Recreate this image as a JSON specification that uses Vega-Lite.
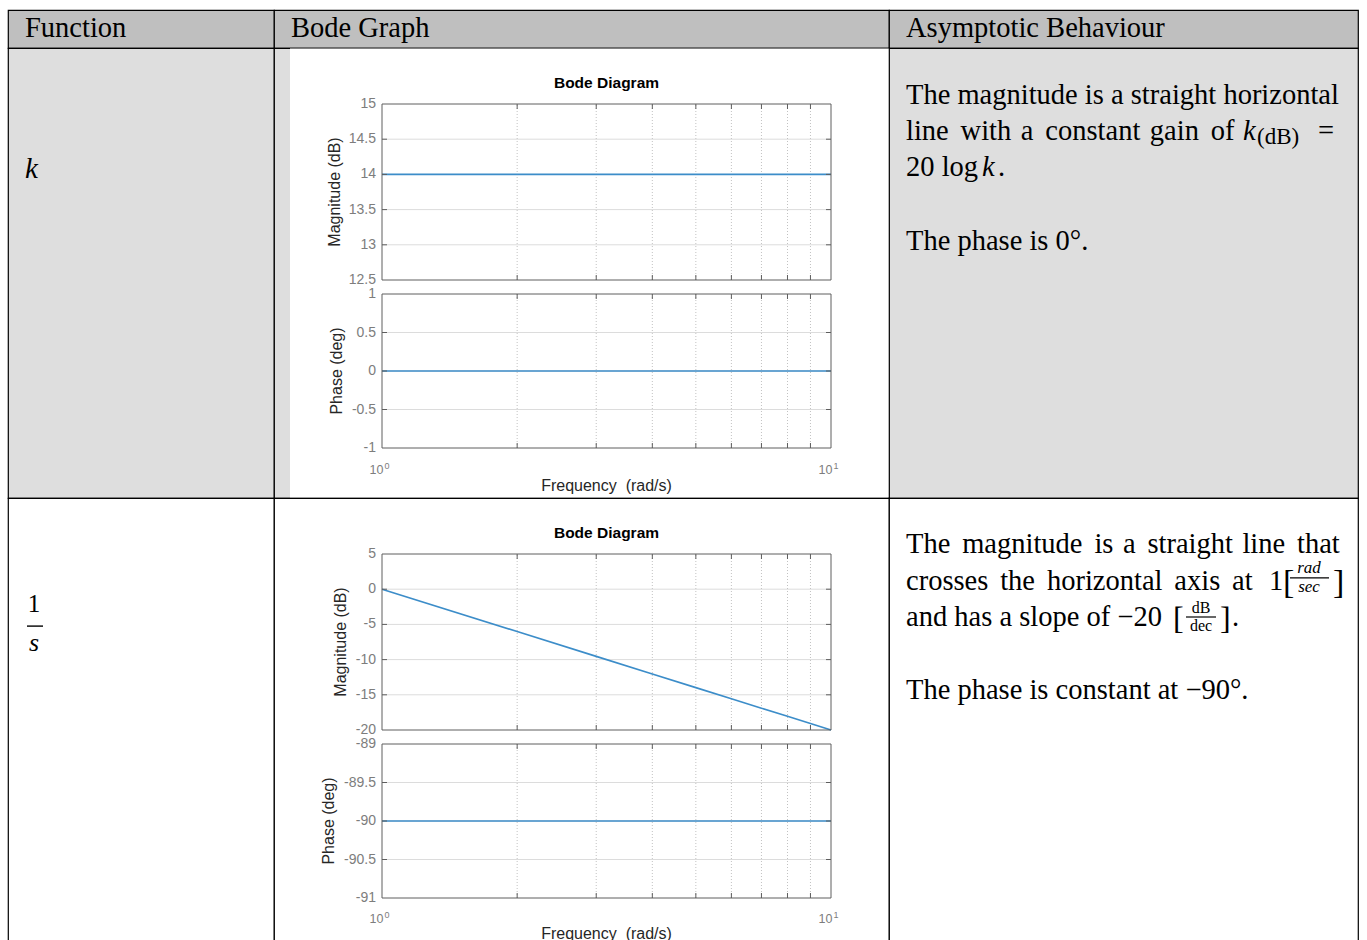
{
"$schema": "https://vega.github.io/schema/vega-lite/v6.json",
"background": "#ffffff",
"padding": {"left": 7, "top": 9, "right": 0, "bottom": 0},
"autosize": {"type": "pad"},
"spacing": 0,
"bounds": "flush",
"columns": 3,
"config": {
 "view": {"stroke": null},
 "text": {"font": "Liberation Serif", "fontSize": 28.5, "align": "left", "baseline": "alphabetic", "color": "#000000"}
},
"datasets": {
 "one": [{"a": 1}],
 "bt": [{"t": "Bode Diagram"}],
 "magTitle": [{"t": "Magnitude (dB)"}],
 "phTitle": [{"t": "Phase (deg)"}],
 "fTitle": [{"t": "Frequency\u00a0 (rad/s)"}],
 "xLab": [{"w": 1, "b": "10", "e": "0"}, {"w": 10, "b": "10", "e": "1"}],
 "minor": [{"w": 2}, {"w": 3}, {"w": 4}, {"w": 5}, {"w": 6}, {"w": 7}, {"w": 8}, {"w": 9}],
 "kMagGrid": [{"v": 13}, {"v": 13.5}, {"v": 14}, {"v": 14.5}],
 "kPhGrid": [{"v": -0.5}, {"v": 0}, {"v": 0.5}],
 "iMagGrid": [{"v": -15}, {"v": -10}, {"v": -5}, {"v": 0}],
 "iPhGrid": [{"v": -90.5}, {"v": -90}, {"v": -89.5}],
 "kMagLab": [{"v": 12.5, "lab": "12.5"}, {"v": 13, "lab": "13"}, {"v": 13.5, "lab": "13.5"}, {"v": 14, "lab": "14"}, {"v": 14.5, "lab": "14.5"}, {"v": 15, "lab": "15"}],
 "kPhLab": [{"v": -1, "lab": "-1"}, {"v": -0.5, "lab": "-0.5"}, {"v": 0, "lab": "0"}, {"v": 0.5, "lab": "0.5"}, {"v": 1, "lab": "1"}],
 "iMagLab": [{"v": -20, "lab": "-20"}, {"v": -15, "lab": "-15"}, {"v": -10, "lab": "-10"}, {"v": -5, "lab": "-5"}, {"v": 0, "lab": "0"}, {"v": 5, "lab": "5"}],
 "iPhLab": [{"v": -91, "lab": "-91"}, {"v": -90.5, "lab": "-90.5"}, {"v": -90, "lab": "-90"}, {"v": -89.5, "lab": "-89.5"}, {"v": -89, "lab": "-89"}],
 "kMag": [{"w": 1, "val": 14}, {"w": 10, "val": 14}],
 "kPh": [{"w": 1, "val": 0}, {"w": 10, "val": 0}],
 "iMag": [{"w": 1, "val": 0}, {"w": 2, "val": -6.02}, {"w": 3, "val": -9.54}, {"w": 4, "val": -12.04}, {"w": 5, "val": -13.98}, {"w": 6, "val": -15.56}, {"w": 7, "val": -16.9}, {"w": 8, "val": -18.06}, {"w": 9, "val": -19.08}, {"w": 10, "val": -20}],
 "iPh": [{"w": 1, "val": -90}, {"w": 10, "val": -90}]
},
"concat": [
 {"width": 266, "height": 38, "view": {"fill": "#bfbfbf", "stroke": "#000000", "strokeWidth": 1.2},
  "data": {"values": [{"t": "Function"}]}, "mark": {"type": "text", "x": 17, "y": 26.5}, "encoding": {"text": {"field": "t"}}},
 {"width": 615, "height": 38, "view": {"fill": "#bfbfbf", "stroke": "#000000", "strokeWidth": 1.2},
  "data": {"values": [{"t": "Bode Graph"}]}, "mark": {"type": "text", "x": 17, "y": 26.5}, "encoding": {"text": {"field": "t"}}},
 {"width": 469, "height": 38, "view": {"fill": "#bfbfbf", "stroke": "#000000", "strokeWidth": 1.2},
  "data": {"values": [{"t": "Asymptotic Behaviour"}]}, "mark": {"type": "text", "x": 17, "y": 26.5}, "encoding": {"text": {"field": "t"}}},

 {"width": 266, "height": 450, "view": {"fill": "#dedede", "stroke": "#000000", "strokeWidth": 1.2},
  "data": {"values": [{"t": "k"}]}, "mark": {"type": "text", "x": 17, "y": 130, "fontStyle": "italic", "fontSize": 29}, "encoding": {"text": {"field": "t"}}},

 {"width": 615, "height": 450, "view": {"fill": "#dedede", "stroke": "#000000", "strokeWidth": 1.2},
  "resolve": {"scale": {"x": "independent", "y": "independent"}, "axis": {"x": "independent", "y": "independent"}},
  "layer": [
   {"data": {"name": "one"}, "mark": {"type": "rect", "x": 16, "x2": 615, "y": 0.6, "y2": 449.4, "fill": "#ffffff"}, "encoding": {}},
   {"layer": [
    {"data": {"name": "kMagGrid"}, "mark": {"type": "rule", "color": "#dcdcdc", "strokeWidth": 1},
     "encoding": {"y": {"field": "v", "type": "quantitative", "scale": {"domain": [12.5, 15], "range": [232, 56], "nice": false, "zero": false}, "axis": null},
      "x": {"datum": 1, "type": "quantitative", "scale": {"type": "log", "domain": [1, 10], "range": [108, 557], "nice": false}, "axis": null}, "x2": {"datum": 10}}},
    {"data": {"name": "minor"}, "mark": {"type": "rule", "color": "#c2c2c2", "strokeWidth": 1, "strokeDash": [1, 2]},
     "encoding": {"x": {"field": "w", "type": "quantitative", "scale": {"type": "log", "domain": [1, 10], "range": [108, 557], "nice": false}, "axis": null},
      "y": {"datum": 12.5, "type": "quantitative", "scale": {"domain": [12.5, 15], "range": [232, 56], "nice": false, "zero": false}, "axis": null}, "y2": {"datum": 15}}},
    {"data": {"name": "kMag"}, "mark": {"type": "line", "color": "#3c8dc9", "strokeWidth": 1.6},
     "encoding": {"x": {"field": "w", "type": "quantitative", "scale": {"type": "log", "domain": [1, 10], "range": [108, 557], "nice": false}, "axis": null},
      "y": {"field": "val", "type": "quantitative", "scale": {"domain": [12.5, 15], "range": [232, 56], "nice": false, "zero": false}, "axis": null}}},
    {"data": {"name": "one"}, "mark": {"type": "rect", "fill": "#ffffff", "fillOpacity": 0, "stroke": "#5e5e5e", "strokeWidth": 1},
     "encoding": {"x": {"datum": 1, "type": "quantitative", "scale": {"type": "log", "domain": [1, 10], "range": [108, 557], "nice": false}, "axis": null}, "x2": {"datum": 10},
      "y": {"datum": 12.5, "type": "quantitative", "scale": {"domain": [12.5, 15], "range": [232, 56], "nice": false, "zero": false}, "axis": null}, "y2": {"datum": 15}}},
    {"data": {"name": "minor"}, "mark": {"type": "tick", "orient": "vertical", "size": 5, "thickness": 1, "color": "#5e5e5e", "opacity": 1, "yOffset": -2.5},
     "encoding": {"x": {"field": "w", "type": "quantitative", "scale": {"type": "log", "domain": [1, 10], "range": [108, 557], "nice": false}, "axis": null},
      "y": {"datum": 12.5, "type": "quantitative", "scale": {"domain": [12.5, 15], "range": [232, 56], "nice": false, "zero": false}, "axis": null}}},
    {"data": {"name": "minor"}, "mark": {"type": "tick", "orient": "vertical", "size": 5, "thickness": 1, "color": "#5e5e5e", "opacity": 1, "yOffset": 2.5},
     "encoding": {"x": {"field": "w", "type": "quantitative", "scale": {"type": "log", "domain": [1, 10], "range": [108, 557], "nice": false}, "axis": null},
      "y": {"datum": 15, "type": "quantitative", "scale": {"domain": [12.5, 15], "range": [232, 56], "nice": false, "zero": false}, "axis": null}}},
    {"data": {"name": "kMagGrid"}, "mark": {"type": "tick", "orient": "horizontal", "size": 5, "thickness": 1, "color": "#5e5e5e", "opacity": 1, "xOffset": 2.5},
     "encoding": {"y": {"field": "v", "type": "quantitative", "scale": {"domain": [12.5, 15], "range": [232, 56], "nice": false, "zero": false}, "axis": null},
      "x": {"datum": 1, "type": "quantitative", "scale": {"type": "log", "domain": [1, 10], "range": [108, 557], "nice": false}, "axis": null}}},
    {"data": {"name": "kMagGrid"}, "mark": {"type": "tick", "orient": "horizontal", "size": 5, "thickness": 1, "color": "#5e5e5e", "opacity": 1, "xOffset": -2.5},
     "encoding": {"y": {"field": "v", "type": "quantitative", "scale": {"domain": [12.5, 15], "range": [232, 56], "nice": false, "zero": false}, "axis": null},
      "x": {"datum": 10, "type": "quantitative", "scale": {"type": "log", "domain": [1, 10], "range": [108, 557], "nice": false}, "axis": null}}},
    {"data": {"name": "kMagLab"}, "mark": {"type": "text", "font": "Liberation Sans", "fontSize": 14, "color": "#7d7d7d", "align": "right", "baseline": "middle", "dx": -6},
     "encoding": {"text": {"field": "lab"}, "y": {"field": "v", "type": "quantitative", "scale": {"domain": [12.5, 15], "range": [232, 56], "nice": false, "zero": false}, "axis": null},
      "x": {"datum": 1, "type": "quantitative", "scale": {"type": "log", "domain": [1, 10], "range": [108, 557], "nice": false}, "axis": null}}},
    {"data": {"name": "magTitle"}, "mark": {"type": "text", "font": "Liberation Sans", "fontSize": 16, "color": "#262626", "align": "center", "baseline": "middle", "angle": 270, "xOffset": -47},
     "encoding": {"text": {"field": "t"}, "y": {"datum": 13.75, "type": "quantitative", "scale": {"domain": [12.5, 15], "range": [232, 56], "nice": false, "zero": false}, "axis": null},
      "x": {"datum": 1, "type": "quantitative", "scale": {"type": "log", "domain": [1, 10], "range": [108, 557], "nice": false}, "axis": null}}},
    {"data": {"name": "bt"}, "mark": {"type": "text", "font": "Liberation Sans", "fontSize": 15.5, "fontWeight": "bold", "align": "center", "baseline": "alphabetic", "dy": -16, "color": "#000000"},
     "encoding": {"text": {"field": "t"},
      "x": {"datum": 3.16228, "type": "quantitative", "scale": {"type": "log", "domain": [1, 10], "range": [108, 557], "nice": false}, "axis": null},
      "y": {"datum": 15, "type": "quantitative", "scale": {"domain": [12.5, 15], "range": [232, 56], "nice": false, "zero": false}, "axis": null}}}
   ]},
   {"layer": [
    {"data": {"name": "kPhGrid"}, "mark": {"type": "rule", "color": "#dcdcdc", "strokeWidth": 1},
     "encoding": {"y": {"field": "v", "type": "quantitative", "scale": {"domain": [-1, 1], "range": [400, 246], "nice": false, "zero": false}, "axis": null},
      "x": {"datum": 1, "type": "quantitative", "scale": {"type": "log", "domain": [1, 10], "range": [108, 557], "nice": false}, "axis": null}, "x2": {"datum": 10}}},
    {"data": {"name": "minor"}, "mark": {"type": "rule", "color": "#c2c2c2", "strokeWidth": 1, "strokeDash": [1, 2]},
     "encoding": {"x": {"field": "w", "type": "quantitative", "scale": {"type": "log", "domain": [1, 10], "range": [108, 557], "nice": false}, "axis": null},
      "y": {"datum": -1, "type": "quantitative", "scale": {"domain": [-1, 1], "range": [400, 246], "nice": false, "zero": false}, "axis": null}, "y2": {"datum": 1}}},
    {"data": {"name": "kPh"}, "mark": {"type": "line", "color": "#3c8dc9", "strokeWidth": 1.6},
     "encoding": {"x": {"field": "w", "type": "quantitative", "scale": {"type": "log", "domain": [1, 10], "range": [108, 557], "nice": false}, "axis": null},
      "y": {"field": "val", "type": "quantitative", "scale": {"domain": [-1, 1], "range": [400, 246], "nice": false, "zero": false}, "axis": null}}},
    {"data": {"name": "one"}, "mark": {"type": "rect", "fill": "#ffffff", "fillOpacity": 0, "stroke": "#5e5e5e", "strokeWidth": 1},
     "encoding": {"x": {"datum": 1, "type": "quantitative", "scale": {"type": "log", "domain": [1, 10], "range": [108, 557], "nice": false}, "axis": null}, "x2": {"datum": 10},
      "y": {"datum": -1, "type": "quantitative", "scale": {"domain": [-1, 1], "range": [400, 246], "nice": false, "zero": false}, "axis": null}, "y2": {"datum": 1}}},
    {"data": {"name": "minor"}, "mark": {"type": "tick", "orient": "vertical", "size": 5, "thickness": 1, "color": "#5e5e5e", "opacity": 1, "yOffset": -2.5},
     "encoding": {"x": {"field": "w", "type": "quantitative", "scale": {"type": "log", "domain": [1, 10], "range": [108, 557], "nice": false}, "axis": null},
      "y": {"datum": -1, "type": "quantitative", "scale": {"domain": [-1, 1], "range": [400, 246], "nice": false, "zero": false}, "axis": null}}},
    {"data": {"name": "minor"}, "mark": {"type": "tick", "orient": "vertical", "size": 5, "thickness": 1, "color": "#5e5e5e", "opacity": 1, "yOffset": 2.5},
     "encoding": {"x": {"field": "w", "type": "quantitative", "scale": {"type": "log", "domain": [1, 10], "range": [108, 557], "nice": false}, "axis": null},
      "y": {"datum": 1, "type": "quantitative", "scale": {"domain": [-1, 1], "range": [400, 246], "nice": false, "zero": false}, "axis": null}}},
    {"data": {"name": "kPhGrid"}, "mark": {"type": "tick", "orient": "horizontal", "size": 5, "thickness": 1, "color": "#5e5e5e", "opacity": 1, "xOffset": 2.5},
     "encoding": {"y": {"field": "v", "type": "quantitative", "scale": {"domain": [-1, 1], "range": [400, 246], "nice": false, "zero": false}, "axis": null},
      "x": {"datum": 1, "type": "quantitative", "scale": {"type": "log", "domain": [1, 10], "range": [108, 557], "nice": false}, "axis": null}}},
    {"data": {"name": "kPhGrid"}, "mark": {"type": "tick", "orient": "horizontal", "size": 5, "thickness": 1, "color": "#5e5e5e", "opacity": 1, "xOffset": -2.5},
     "encoding": {"y": {"field": "v", "type": "quantitative", "scale": {"domain": [-1, 1], "range": [400, 246], "nice": false, "zero": false}, "axis": null},
      "x": {"datum": 10, "type": "quantitative", "scale": {"type": "log", "domain": [1, 10], "range": [108, 557], "nice": false}, "axis": null}}},
    {"data": {"name": "kPhLab"}, "mark": {"type": "text", "font": "Liberation Sans", "fontSize": 14, "color": "#7d7d7d", "align": "right", "baseline": "middle", "dx": -6},
     "encoding": {"text": {"field": "lab"}, "y": {"field": "v", "type": "quantitative", "scale": {"domain": [-1, 1], "range": [400, 246], "nice": false, "zero": false}, "axis": null},
      "x": {"datum": 1, "type": "quantitative", "scale": {"type": "log", "domain": [1, 10], "range": [108, 557], "nice": false}, "axis": null}}},
    {"data": {"name": "phTitle"}, "mark": {"type": "text", "font": "Liberation Sans", "fontSize": 16, "color": "#262626", "align": "center", "baseline": "middle", "angle": 270, "xOffset": -45},
     "encoding": {"text": {"field": "t"}, "y": {"datum": 0, "type": "quantitative", "scale": {"domain": [-1, 1], "range": [400, 246], "nice": false, "zero": false}, "axis": null},
      "x": {"datum": 1, "type": "quantitative", "scale": {"type": "log", "domain": [1, 10], "range": [108, 557], "nice": false}, "axis": null}}},
    {"data": {"name": "xLab"}, "mark": {"type": "text", "font": "Liberation Sans", "fontSize": 12.5, "color": "#7d7d7d", "align": "right", "baseline": "alphabetic", "dx": 1.5, "dy": 26},
     "encoding": {"text": {"field": "b"}, "x": {"field": "w", "type": "quantitative", "scale": {"type": "log", "domain": [1, 10], "range": [108, 557], "nice": false}, "axis": null},
      "y": {"datum": -1, "type": "quantitative", "scale": {"domain": [-1, 1], "range": [400, 246], "nice": false, "zero": false}, "axis": null}}},
    {"data": {"name": "xLab"}, "mark": {"type": "text", "font": "Liberation Sans", "fontSize": 9, "color": "#7d7d7d", "align": "left", "baseline": "alphabetic", "dx": 2.5, "dy": 21},
     "encoding": {"text": {"field": "e"}, "x": {"field": "w", "type": "quantitative", "scale": {"type": "log", "domain": [1, 10], "range": [108, 557], "nice": false}, "axis": null},
      "y": {"datum": -1, "type": "quantitative", "scale": {"domain": [-1, 1], "range": [400, 246], "nice": false, "zero": false}, "axis": null}}},
    {"data": {"name": "fTitle"}, "mark": {"type": "text", "font": "Liberation Sans", "fontSize": 16, "color": "#262626", "align": "center", "baseline": "middle", "dy": 38},
     "encoding": {"text": {"field": "t"}, "x": {"datum": 3.16228, "type": "quantitative", "scale": {"type": "log", "domain": [1, 10], "range": [108, 557], "nice": false}, "axis": null},
      "y": {"datum": -1, "type": "quantitative", "scale": {"domain": [-1, 1], "range": [400, 246], "nice": false, "zero": false}, "axis": null}}}
   ]}
  ]},

 {"width": 469, "height": 450, "view": {"fill": "#dedede", "stroke": "#000000", "strokeWidth": 1.2},
  "layer": [
   {"data": {"values": [{"t": "The magnitude is a straight horizontal"}]}, "mark": {"type": "text", "x": 17, "y": 56}, "encoding": {"text": {"field": "t"}}},
   {"data": {"values": [{"t": "line\u2004\u200awith\u2004a\u2004\u200aconstant\u2004gain\u2004\u200aof"}]}, "mark": {"type": "text", "x": 17, "y": 92}, "encoding": {"text": {"field": "t"}}},
   {"data": {"values": [{"t": "k"}]}, "mark": {"type": "text", "x": 354, "y": 92, "fontStyle": "italic"}, "encoding": {"text": {"field": "t"}}},
   {"data": {"values": [{"t": "(dB)"}]}, "mark": {"type": "text", "x": 368, "y": 95.5, "fontSize": 23}, "encoding": {"text": {"field": "t"}}},
   {"data": {"values": [{"t": "="}]}, "mark": {"type": "text", "x": 429, "y": 92}, "encoding": {"text": {"field": "t"}}},
   {"data": {"values": [{"t": "20 log"}]}, "mark": {"type": "text", "x": 17, "y": 128}, "encoding": {"text": {"field": "t"}}},
   {"data": {"values": [{"t": "k"}]}, "mark": {"type": "text", "x": 93, "y": 128, "fontStyle": "italic"}, "encoding": {"text": {"field": "t"}}},
   {"data": {"values": [{"t": "."}]}, "mark": {"type": "text", "x": 109, "y": 128}, "encoding": {"text": {"field": "t"}}},
   {"data": {"values": [{"t": "The phase is 0°."}]}, "mark": {"type": "text", "x": 17, "y": 201.5}, "encoding": {"text": {"field": "t"}}}
  ]},

 {"width": 266, "height": 450, "view": {"fill": "#ffffff", "stroke": "#000000", "strokeWidth": 1.2},
  "layer": [
   {"data": {"values": [{"t": "1"}]}, "mark": {"type": "text", "x": 26, "y": 114, "align": "center", "fontSize": 25}, "encoding": {"text": {"field": "t"}}},
   {"data": {"values": [{"a": 1}]}, "mark": {"type": "rect", "x": 19, "x2": 35, "y": 127.4, "y2": 128.8, "fill": "#000000"}, "encoding": {}},
   {"data": {"values": [{"t": "s"}]}, "mark": {"type": "text", "x": 26, "y": 153, "align": "center", "fontSize": 26, "fontStyle": "italic"}, "encoding": {"text": {"field": "t"}}}
  ]},

 {"width": 615, "height": 450, "view": {"fill": "#ffffff", "stroke": "#000000", "strokeWidth": 1.2},
  "resolve": {"scale": {"x": "independent", "y": "independent"}, "axis": {"x": "independent", "y": "independent"}},
  "layer": [
   {"layer": [
    {"data": {"name": "iMagGrid"}, "mark": {"type": "rule", "color": "#dcdcdc", "strokeWidth": 1},
     "encoding": {"y": {"field": "v", "type": "quantitative", "scale": {"domain": [-20, 5], "range": [232, 56], "nice": false, "zero": false}, "axis": null},
      "x": {"datum": 1, "type": "quantitative", "scale": {"type": "log", "domain": [1, 10], "range": [108, 557], "nice": false}, "axis": null}, "x2": {"datum": 10}}},
    {"data": {"name": "minor"}, "mark": {"type": "rule", "color": "#c2c2c2", "strokeWidth": 1, "strokeDash": [1, 2]},
     "encoding": {"x": {"field": "w", "type": "quantitative", "scale": {"type": "log", "domain": [1, 10], "range": [108, 557], "nice": false}, "axis": null},
      "y": {"datum": -20, "type": "quantitative", "scale": {"domain": [-20, 5], "range": [232, 56], "nice": false, "zero": false}, "axis": null}, "y2": {"datum": 5}}},
    {"data": {"name": "iMag"}, "mark": {"type": "line", "color": "#3c8dc9", "strokeWidth": 1.6},
     "encoding": {"x": {"field": "w", "type": "quantitative", "scale": {"type": "log", "domain": [1, 10], "range": [108, 557], "nice": false}, "axis": null},
      "y": {"field": "val", "type": "quantitative", "scale": {"domain": [-20, 5], "range": [232, 56], "nice": false, "zero": false}, "axis": null}}},
    {"data": {"name": "one"}, "mark": {"type": "rect", "fill": "#ffffff", "fillOpacity": 0, "stroke": "#5e5e5e", "strokeWidth": 1},
     "encoding": {"x": {"datum": 1, "type": "quantitative", "scale": {"type": "log", "domain": [1, 10], "range": [108, 557], "nice": false}, "axis": null}, "x2": {"datum": 10},
      "y": {"datum": -20, "type": "quantitative", "scale": {"domain": [-20, 5], "range": [232, 56], "nice": false, "zero": false}, "axis": null}, "y2": {"datum": 5}}},
    {"data": {"name": "minor"}, "mark": {"type": "tick", "orient": "vertical", "size": 5, "thickness": 1, "color": "#5e5e5e", "opacity": 1, "yOffset": -2.5},
     "encoding": {"x": {"field": "w", "type": "quantitative", "scale": {"type": "log", "domain": [1, 10], "range": [108, 557], "nice": false}, "axis": null},
      "y": {"datum": -20, "type": "quantitative", "scale": {"domain": [-20, 5], "range": [232, 56], "nice": false, "zero": false}, "axis": null}}},
    {"data": {"name": "minor"}, "mark": {"type": "tick", "orient": "vertical", "size": 5, "thickness": 1, "color": "#5e5e5e", "opacity": 1, "yOffset": 2.5},
     "encoding": {"x": {"field": "w", "type": "quantitative", "scale": {"type": "log", "domain": [1, 10], "range": [108, 557], "nice": false}, "axis": null},
      "y": {"datum": 5, "type": "quantitative", "scale": {"domain": [-20, 5], "range": [232, 56], "nice": false, "zero": false}, "axis": null}}},
    {"data": {"name": "iMagGrid"}, "mark": {"type": "tick", "orient": "horizontal", "size": 5, "thickness": 1, "color": "#5e5e5e", "opacity": 1, "xOffset": 2.5},
     "encoding": {"y": {"field": "v", "type": "quantitative", "scale": {"domain": [-20, 5], "range": [232, 56], "nice": false, "zero": false}, "axis": null},
      "x": {"datum": 1, "type": "quantitative", "scale": {"type": "log", "domain": [1, 10], "range": [108, 557], "nice": false}, "axis": null}}},
    {"data": {"name": "iMagGrid"}, "mark": {"type": "tick", "orient": "horizontal", "size": 5, "thickness": 1, "color": "#5e5e5e", "opacity": 1, "xOffset": -2.5},
     "encoding": {"y": {"field": "v", "type": "quantitative", "scale": {"domain": [-20, 5], "range": [232, 56], "nice": false, "zero": false}, "axis": null},
      "x": {"datum": 10, "type": "quantitative", "scale": {"type": "log", "domain": [1, 10], "range": [108, 557], "nice": false}, "axis": null}}},
    {"data": {"name": "iMagLab"}, "mark": {"type": "text", "font": "Liberation Sans", "fontSize": 14, "color": "#7d7d7d", "align": "right", "baseline": "middle", "dx": -6},
     "encoding": {"text": {"field": "lab"}, "y": {"field": "v", "type": "quantitative", "scale": {"domain": [-20, 5], "range": [232, 56], "nice": false, "zero": false}, "axis": null},
      "x": {"datum": 1, "type": "quantitative", "scale": {"type": "log", "domain": [1, 10], "range": [108, 557], "nice": false}, "axis": null}}},
    {"data": {"name": "magTitle"}, "mark": {"type": "text", "font": "Liberation Sans", "fontSize": 16, "color": "#262626", "align": "center", "baseline": "middle", "angle": 270, "xOffset": -41},
     "encoding": {"text": {"field": "t"}, "y": {"datum": -7.5, "type": "quantitative", "scale": {"domain": [-20, 5], "range": [232, 56], "nice": false, "zero": false}, "axis": null},
      "x": {"datum": 1, "type": "quantitative", "scale": {"type": "log", "domain": [1, 10], "range": [108, 557], "nice": false}, "axis": null}}},
    {"data": {"name": "bt"}, "mark": {"type": "text", "font": "Liberation Sans", "fontSize": 15.5, "fontWeight": "bold", "align": "center", "baseline": "alphabetic", "dy": -16, "color": "#000000"},
     "encoding": {"text": {"field": "t"},
      "x": {"datum": 3.16228, "type": "quantitative", "scale": {"type": "log", "domain": [1, 10], "range": [108, 557], "nice": false}, "axis": null},
      "y": {"datum": 5, "type": "quantitative", "scale": {"domain": [-20, 5], "range": [232, 56], "nice": false, "zero": false}, "axis": null}}}
   ]},
   {"layer": [
    {"data": {"name": "iPhGrid"}, "mark": {"type": "rule", "color": "#dcdcdc", "strokeWidth": 1},
     "encoding": {"y": {"field": "v", "type": "quantitative", "scale": {"domain": [-91, -89], "range": [400, 246], "nice": false, "zero": false}, "axis": null},
      "x": {"datum": 1, "type": "quantitative", "scale": {"type": "log", "domain": [1, 10], "range": [108, 557], "nice": false}, "axis": null}, "x2": {"datum": 10}}},
    {"data": {"name": "minor"}, "mark": {"type": "rule", "color": "#c2c2c2", "strokeWidth": 1, "strokeDash": [1, 2]},
     "encoding": {"x": {"field": "w", "type": "quantitative", "scale": {"type": "log", "domain": [1, 10], "range": [108, 557], "nice": false}, "axis": null},
      "y": {"datum": -91, "type": "quantitative", "scale": {"domain": [-91, -89], "range": [400, 246], "nice": false, "zero": false}, "axis": null}, "y2": {"datum": -89}}},
    {"data": {"name": "iPh"}, "mark": {"type": "line", "color": "#3c8dc9", "strokeWidth": 1.6},
     "encoding": {"x": {"field": "w", "type": "quantitative", "scale": {"type": "log", "domain": [1, 10], "range": [108, 557], "nice": false}, "axis": null},
      "y": {"field": "val", "type": "quantitative", "scale": {"domain": [-91, -89], "range": [400, 246], "nice": false, "zero": false}, "axis": null}}},
    {"data": {"name": "one"}, "mark": {"type": "rect", "fill": "#ffffff", "fillOpacity": 0, "stroke": "#5e5e5e", "strokeWidth": 1},
     "encoding": {"x": {"datum": 1, "type": "quantitative", "scale": {"type": "log", "domain": [1, 10], "range": [108, 557], "nice": false}, "axis": null}, "x2": {"datum": 10},
      "y": {"datum": -91, "type": "quantitative", "scale": {"domain": [-91, -89], "range": [400, 246], "nice": false, "zero": false}, "axis": null}, "y2": {"datum": -89}}},
    {"data": {"name": "minor"}, "mark": {"type": "tick", "orient": "vertical", "size": 5, "thickness": 1, "color": "#5e5e5e", "opacity": 1, "yOffset": -2.5},
     "encoding": {"x": {"field": "w", "type": "quantitative", "scale": {"type": "log", "domain": [1, 10], "range": [108, 557], "nice": false}, "axis": null},
      "y": {"datum": -91, "type": "quantitative", "scale": {"domain": [-91, -89], "range": [400, 246], "nice": false, "zero": false}, "axis": null}}},
    {"data": {"name": "minor"}, "mark": {"type": "tick", "orient": "vertical", "size": 5, "thickness": 1, "color": "#5e5e5e", "opacity": 1, "yOffset": 2.5},
     "encoding": {"x": {"field": "w", "type": "quantitative", "scale": {"type": "log", "domain": [1, 10], "range": [108, 557], "nice": false}, "axis": null},
      "y": {"datum": -89, "type": "quantitative", "scale": {"domain": [-91, -89], "range": [400, 246], "nice": false, "zero": false}, "axis": null}}},
    {"data": {"name": "iPhGrid"}, "mark": {"type": "tick", "orient": "horizontal", "size": 5, "thickness": 1, "color": "#5e5e5e", "opacity": 1, "xOffset": 2.5},
     "encoding": {"y": {"field": "v", "type": "quantitative", "scale": {"domain": [-91, -89], "range": [400, 246], "nice": false, "zero": false}, "axis": null},
      "x": {"datum": 1, "type": "quantitative", "scale": {"type": "log", "domain": [1, 10], "range": [108, 557], "nice": false}, "axis": null}}},
    {"data": {"name": "iPhGrid"}, "mark": {"type": "tick", "orient": "horizontal", "size": 5, "thickness": 1, "color": "#5e5e5e", "opacity": 1, "xOffset": -2.5},
     "encoding": {"y": {"field": "v", "type": "quantitative", "scale": {"domain": [-91, -89], "range": [400, 246], "nice": false, "zero": false}, "axis": null},
      "x": {"datum": 10, "type": "quantitative", "scale": {"type": "log", "domain": [1, 10], "range": [108, 557], "nice": false}, "axis": null}}},
    {"data": {"name": "iPhLab"}, "mark": {"type": "text", "font": "Liberation Sans", "fontSize": 14, "color": "#7d7d7d", "align": "right", "baseline": "middle", "dx": -6},
     "encoding": {"text": {"field": "lab"}, "y": {"field": "v", "type": "quantitative", "scale": {"domain": [-91, -89], "range": [400, 246], "nice": false, "zero": false}, "axis": null},
      "x": {"datum": 1, "type": "quantitative", "scale": {"type": "log", "domain": [1, 10], "range": [108, 557], "nice": false}, "axis": null}}},
    {"data": {"name": "phTitle"}, "mark": {"type": "text", "font": "Liberation Sans", "fontSize": 16, "color": "#262626", "align": "center", "baseline": "middle", "angle": 270, "xOffset": -53},
     "encoding": {"text": {"field": "t"}, "y": {"datum": -90, "type": "quantitative", "scale": {"domain": [-91, -89], "range": [400, 246], "nice": false, "zero": false}, "axis": null},
      "x": {"datum": 1, "type": "quantitative", "scale": {"type": "log", "domain": [1, 10], "range": [108, 557], "nice": false}, "axis": null}}},
    {"data": {"name": "xLab"}, "mark": {"type": "text", "font": "Liberation Sans", "fontSize": 12.5, "color": "#7d7d7d", "align": "right", "baseline": "alphabetic", "dx": 1.5, "dy": 25},
     "encoding": {"text": {"field": "b"}, "x": {"field": "w", "type": "quantitative", "scale": {"type": "log", "domain": [1, 10], "range": [108, 557], "nice": false}, "axis": null},
      "y": {"datum": -91, "type": "quantitative", "scale": {"domain": [-91, -89], "range": [400, 246], "nice": false, "zero": false}, "axis": null}}},
    {"data": {"name": "xLab"}, "mark": {"type": "text", "font": "Liberation Sans", "fontSize": 9, "color": "#7d7d7d", "align": "left", "baseline": "alphabetic", "dx": 2.5, "dy": 20},
     "encoding": {"text": {"field": "e"}, "x": {"field": "w", "type": "quantitative", "scale": {"type": "log", "domain": [1, 10], "range": [108, 557], "nice": false}, "axis": null},
      "y": {"datum": -91, "type": "quantitative", "scale": {"domain": [-91, -89], "range": [400, 246], "nice": false, "zero": false}, "axis": null}}},
    {"data": {"name": "fTitle"}, "mark": {"type": "text", "font": "Liberation Sans", "fontSize": 16, "color": "#262626", "align": "center", "baseline": "middle", "dy": 36},
     "encoding": {"text": {"field": "t"}, "x": {"datum": 3.16228, "type": "quantitative", "scale": {"type": "log", "domain": [1, 10], "range": [108, 557], "nice": false}, "axis": null},
      "y": {"datum": -91, "type": "quantitative", "scale": {"domain": [-91, -89], "range": [400, 246], "nice": false, "zero": false}, "axis": null}}}
   ]}
  ]},

 {"width": 469, "height": 450, "view": {"fill": "#ffffff", "stroke": "#000000", "strokeWidth": 1.2},
  "layer": [
   {"data": {"values": [{"t": "The\u2004\u200amagnitude\u2004\u200ais\u2004a\u2004\u200astraight\u2004line\u2004\u200athat"}]}, "mark": {"type": "text", "x": 17, "y": 55}, "encoding": {"text": {"field": "t"}}},
   {"data": {"values": [{"t": "crosses\u2004\u200athe\u2004\u200ahorizontal\u2004\u200aaxis\u2004\u200aat"}]}, "mark": {"type": "text", "x": 17, "y": 91.5}, "encoding": {"text": {"field": "t"}}},
   {"data": {"values": [{"t": "1"}]}, "mark": {"type": "text", "x": 380, "y": 91.5}, "encoding": {"text": {"field": "t"}}},
   {"data": {"values": [{"t": "["}]}, "mark": {"type": "text", "x": 394, "y": 95, "fontSize": 34}, "encoding": {"text": {"field": "t"}}},
   {"data": {"values": [{"t": "rad"}]}, "mark": {"type": "text", "x": 420, "y": 75, "align": "center", "fontSize": 17, "fontStyle": "italic"}, "encoding": {"text": {"field": "t"}}},
   {"data": {"values": [{"a": 1}]}, "mark": {"type": "rect", "x": 401, "x2": 440, "y": 79.2, "y2": 80.4, "fill": "#000000"}, "encoding": {}},
   {"data": {"values": [{"t": "sec"}]}, "mark": {"type": "text", "x": 420, "y": 94, "align": "center", "fontSize": 17, "fontStyle": "italic"}, "encoding": {"text": {"field": "t"}}},
   {"data": {"values": [{"t": "]"}]}, "mark": {"type": "text", "x": 444, "y": 95, "fontSize": 34}, "encoding": {"text": {"field": "t"}}},
   {"data": {"values": [{"t": "and has a slope of −20"}]}, "mark": {"type": "text", "x": 17, "y": 127.5}, "encoding": {"text": {"field": "t"}}},
   {"data": {"values": [{"t": "["}]}, "mark": {"type": "text", "x": 284, "y": 131, "fontSize": 32}, "encoding": {"text": {"field": "t"}}},
   {"data": {"values": [{"t": "dB"}]}, "mark": {"type": "text", "x": 312, "y": 114.5, "align": "center", "fontSize": 16}, "encoding": {"text": {"field": "t"}}},
   {"data": {"values": [{"a": 1}]}, "mark": {"type": "rect", "x": 297, "x2": 327, "y": 118.4, "y2": 119.6, "fill": "#000000"}, "encoding": {}},
   {"data": {"values": [{"t": "dec"}]}, "mark": {"type": "text", "x": 312, "y": 132.5, "align": "center", "fontSize": 16}, "encoding": {"text": {"field": "t"}}},
   {"data": {"values": [{"t": "]"}]}, "mark": {"type": "text", "x": 331, "y": 131, "fontSize": 32}, "encoding": {"text": {"field": "t"}}},
   {"data": {"values": [{"t": "."}]}, "mark": {"type": "text", "x": 343, "y": 127.5}, "encoding": {"text": {"field": "t"}}},
   {"data": {"values": [{"t": "The phase is constant at −90°."}]}, "mark": {"type": "text", "x": 17, "y": 201}, "encoding": {"text": {"field": "t"}}}
  ]}
]
}
